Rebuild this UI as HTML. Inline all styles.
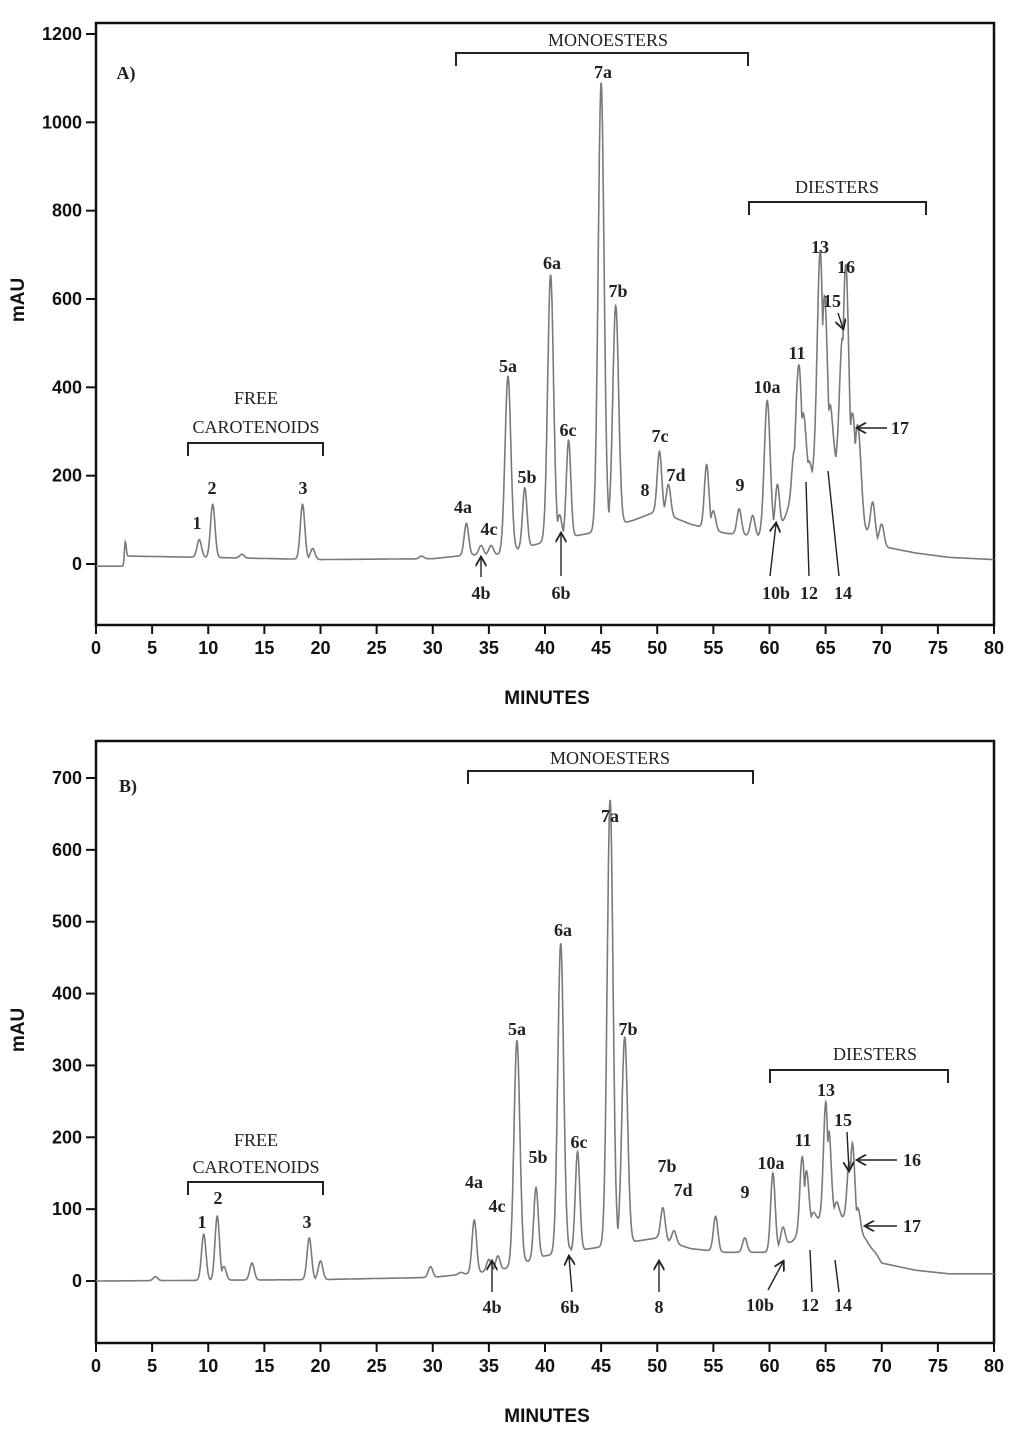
<!DOCTYPE html>
<html><head><meta charset="utf-8">
<style>
html,body{margin:0;padding:0;background:#fff;}
svg{display:block;}
.tk{font-family:"Liberation Sans",sans-serif;font-weight:bold;font-size:18px;fill:#111;}
.ax{font-family:"Liberation Sans",sans-serif;font-weight:bold;font-size:19px;fill:#111;}
.lb{font-family:"Liberation Serif",serif;font-weight:bold;font-size:18px;fill:#222;}
.gp{font-family:"Liberation Serif",serif;font-size:18px;fill:#222;}
</style></head>
<body>
<svg id="chart" width="1024" height="1431" viewBox="0 0 1024 1431" xmlns="http://www.w3.org/2000/svg">
<defs><marker id="ah" markerWidth="8" markerHeight="8" refX="6" refY="4" orient="auto"><path d="M0,0 L7,4 L0,8" fill="none" stroke="#222" stroke-width="1.3"/></marker></defs>
</svg>
<script>
// ---------- Panel A data ----------
const peakTimesA=[2.6,9.2,10.4,13,18.4,19.3,29,33,34.3,35.2,36.7,38.2,40.5,41.3,42.1,45,46.3,49.5,50.2,51,54.4,55,57.3,58.5,59.8,60.7,62.2,62.6,63,63.5,64.5,64.9,65.4,66.5,66.8,67.4,67.9,69.2,70];
const peakTopsA=[50,55,135,22,135,35,18,92,42,42,425,172,655,110,280,1090,585,110,255,180,225,120,125,110,370,180,250,435,330,230,680,580,350,490,645,330,305,140,90];
const baseTimesA=[0,2.5,2.7,10,20,30,33,36,40,44,48,50,53,56,60,61,62,64,66,67.5,68.5,70,73,76,80];
const baseValsA=[-5,-5,18,15,10,12,20,22,50,70,100,120,90,70,60,80,150,200,220,170,80,40,25,15,10];
const yTicksA=[0,200,400,600,800,1000,1200];
// ---------- Panel B data ----------
const peakTimesB=[5.3,9.6,10.8,11.4,13.9,19,20,29.8,32.5,33.7,35,35.8,37.5,39.2,41.4,42,42.9,45.8,47.1,50.5,51.5,55.2,57.8,60.3,61.2,62.9,63.3,63.9,65,65.3,66,67.1,67.4,67.9,68.5,69.5];
const peakTopsB=[6,65,90,20,25,60,28,20,12,85,30,35,335,130,470,50,180,670,340,102,70,90,60,150,75,170,150,95,240,200,110,160,185,100,60,38];
const baseTimesB=[0,20,30,33,36,40,44,48,50,53,56,60,62,64,66,68,70,73,76,80];
const baseValsB=[0,2,5,10,15,35,45,55,60,45,40,40,55,85,95,70,25,15,10,10];
const yTicksB=[0,100,200,300,400,500,600,700];
const xTicks=[0,5,10,15,20,25,30,35,40,45,50,55,60,65,70,75,80];

const NS="http://www.w3.org/2000/svg";
const svg=document.getElementById('chart');
function el(tag,attrs,parent){const e=document.createElementNS(NS,tag);for(const k in attrs)e.setAttribute(k,attrs[k]);(parent||svg).appendChild(e);return e;}
function interp(ts,vs,t){if(t<=ts[0])return vs[0];for(let i=1;i<ts.length;i++){if(t<=ts[i]){const f=(t-ts[i-1])/(ts[i]-ts[i-1]);return vs[i-1]+f*(vs[i]-vs[i-1]);}}return vs[vs.length-1];}

function panel(cfg){
  const g=el('g',{});
  
  
  const X=t=>cfg.x0+t*(cfg.x1-cfg.x0)/80;
  const Y=v=>cfg.yZero-v*cfg.ppu;
  const fr=el('path',{d:`M${cfg.x0},${cfg.bottom} L${cfg.x0},${cfg.top} L${cfg.x1},${cfg.top} L${cfg.x1},${cfg.bottom} Z`,fill:'none',stroke:'#111','stroke-width':2.5},g);
  
  
  cfg.yTicks.forEach(v=>{
    el('line',{x1:cfg.x0-10,x2:cfg.x0,y1:Y(v),y2:Y(v),stroke:'#111','stroke-width':2},g);
    const t=el('text',{x:cfg.x0-14,y:Y(v)+6,'text-anchor':'end',class:'tk'},g);t.textContent=v;
    
    
  });
  xTicks.forEach(v=>{
    el('line',{x1:X(v),x2:X(v),y1:cfg.bottom,y2:cfg.bottom+9,stroke:'#111','stroke-width':2},g);
    const t=el('text',{x:X(v),y:cfg.bottom+29,'text-anchor':'middle',class:'tk'},g);t.textContent=v;
    
    
  });
  const yt=el('text',{x:0,y:0,transform:`translate(24,${cfg.ytitleY}) rotate(-90)`,'text-anchor':'middle',class:'ax'},g);yt.textContent='mAU';
  
  
  const xt=el('text',{x:547,y:cfg.xtitleY,'text-anchor':'middle',class:'ax'},g);xt.textContent='MINUTES';
  
  
  let d='';
  for(let t=0;t<=80.001;t+=0.03){
    const b=interp(cfg.bt,cfg.bv,t);
    let m=0,s2=0;
    for(let i=0;i<cfg.pt.length;i++){
      const amp=Math.max(0,cfg.pv[i]-interp(cfg.bt,cfg.bv,cfg.pt[i]));
      const s=cfg.pt[i]<5?0.08:(cfg.pv[i]>300?0.26:0.2);
      const gv=amp*Math.exp(-((t-cfg.pt[i])**2)/(2*s*s));
      if(gv>m)m=gv; s2+=gv;
    }
    const v=b+0.75*m+0.25*Math.min(s2,m*1.3);
    d+=(d?'L':'M')+X(t).toFixed(1)+','+Y(v).toFixed(1);
  }
  const tr=el('path',{d:d,fill:'none',stroke:'#7a7a7a','stroke-width':1.6},g);
  
  
  return g;
}
function txt(x,y,s,cls,name){const t=el('text',{x:x,y:y,'text-anchor':'middle',class:cls||'lb'});t.textContent=s;
  
  return t;}
function arrow(x1,y1,x2,y2){const l=el('line',{x1,y1,x2,y2,stroke:'#222','stroke-width':1.4,'marker-end':'url(#ah)'});
  
  }
function line(x1,y1,x2,y2){const l=el('line',{x1,y1,x2,y2,stroke:'#222','stroke-width':1.4});
  
  }
function bracket(xa,xb,y,name){const p=el('path',{d:`M${xa},${y+13} L${xa},${y} L${xb},${y} L${xb},${y+13}`,fill:'none',stroke:'#222','stroke-width':2});
  
  }

panel({name:'panel-a',x0:96,x1:994,top:23,bottom:625,yZero:564,ppu:530/1200,yTicks:yTicksA,ytitleY:300,xtitleY:704,pt:peakTimesA,pv:peakTopsA,bt:baseTimesA,bv:baseValsA});
panel({name:'panel-b',x0:96,x1:994,top:741,bottom:1343,yZero:1281,ppu:503/700,yTicks:yTicksB,ytitleY:1030,xtitleY:1422,pt:peakTimesB,pv:peakTopsB,bt:baseTimesB,bv:baseValsB});

txt(126,79,'A)','lb','panel-a-label');
txt(608,46,'MONOESTERS','gp','monoesters-label');bracket(456,748,53,'monoesters-bracket');
txt(837,193,'DIESTERS','gp','diesters-label');bracket(749,926,202,'diesters-bracket');
txt(256,404,'FREE','gp','free-label');txt(256,433,'CAROTENOIDS','gp','carotenoids-label');bracket(188,323,443,'free-carotenoids-bracket');
[[197,529,'1'],[212,494,'2'],[303,494,'3'],[463,513,'4a'],[489,535,'4c'],[508,372,'5a'],[527,483,'5b'],[552,269,'6a'],[568,436,'6c'],[603,78,'7a'],[618,297,'7b'],[660,442,'7c'],[676,481,'7d'],[645,496,'8'],[740,491,'9'],[767,393,'10a'],[797,359,'11'],[820,253,'13'],[846,273,'16'],[832,307,'15'],[900,434,'17'],[481,599,'4b'],[561,599,'6b'],[776,599,'10b'],[809,599,'12'],[843,599,'14']].forEach(a=>txt(a[0],a[1],a[2]));
arrow(481,577,481,558);arrow(561,576,561,534);arrow(770,576,776,524);arrow(838,313,843,328);arrow(887,428,858,428);
line(809,576,806,482);line(839,576,828,471);

txt(128,792,'B)','lb','panel-b-label');
txt(610,764,'MONOESTERS','gp','monoesters-label-b');bracket(468,753,771,'monoesters-bracket-b');
txt(875,1060,'DIESTERS','gp','diesters-label-b');bracket(770,948,1070,'diesters-bracket-b');
txt(256,1146,'FREE','gp','free-label-b');txt(256,1173,'CAROTENOIDS','gp','carotenoids-label-b');bracket(188,323,1182,'free-carotenoids-bracket-b');
[[202,1228,'1'],[218,1204,'2'],[307,1228,'3'],[474,1188,'4a'],[497,1212,'4c'],[517,1035,'5a'],[538,1163,'5b'],[563,936,'6a'],[579,1148,'6c'],[610,822,'7a'],[628,1035,'7b'],[667,1172,'7b'],[683,1196,'7d'],[745,1198,'9'],[771,1169,'10a'],[803,1146,'11'],[826,1096,'13'],[843,1126,'15'],[912,1166,'16'],[912,1232,'17'],[492,1313,'4b'],[570,1313,'6b'],[659,1313,'8'],[760,1311,'10b'],[810,1311,'12'],[843,1311,'14']].forEach(a=>txt(a[0],a[1],a[2]));
arrow(492,1292,492,1262);arrow(572,1292,569,1257);arrow(659,1292,659,1262);arrow(768,1290,783,1262);arrow(847,1132,849,1170);arrow(897,1160,858,1160);arrow(897,1226,866,1226);
line(812,1292,810,1250);line(839,1292,835,1260);
</script>
</body></html>
